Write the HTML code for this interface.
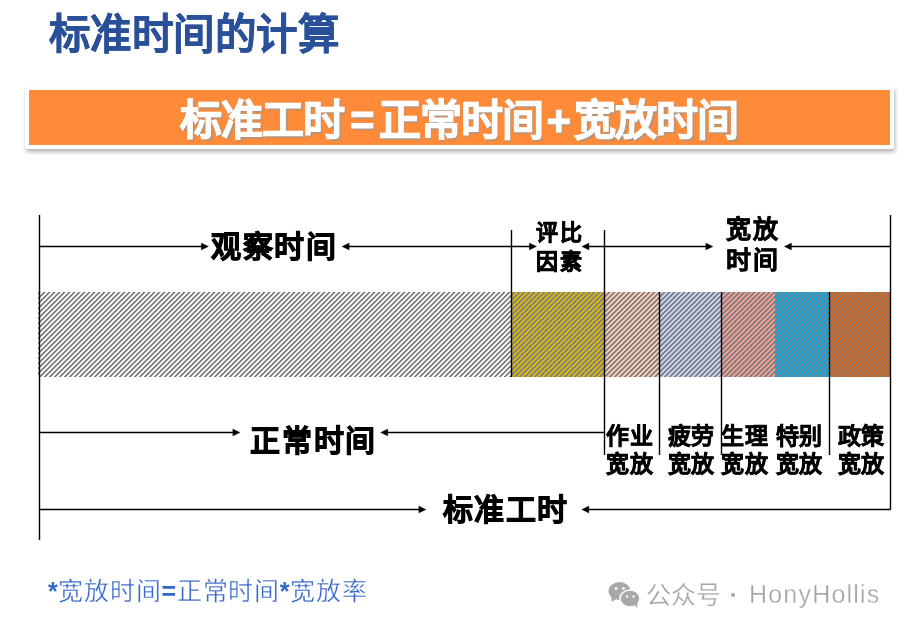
<!DOCTYPE html>
<html lang="zh-CN">
<head>
<meta charset="utf-8">
<style>
html,body{margin:0;padding:0;background:#fff;}
body{width:906px;height:630px;position:relative;overflow:hidden;font-family:"Liberation Sans",sans-serif;}
.t{position:absolute;white-space:nowrap;line-height:1;will-change:transform;}
#title{left:48.5px;top:14px;font-size:41.5px;letter-spacing:-0.55px;font-weight:bold;color:#2a509a;-webkit-text-stroke:0.5px #2a509a;}
#banner{position:absolute;left:25px;top:86px;width:861px;height:55px;background:#ff8a38;border:4px solid #fff;border-radius:2px;box-shadow:1px 3px 4px rgba(0,0,0,0.3);}
#btext{left:180px;top:100px;font-size:42px;letter-spacing:-1px;font-weight:bold;color:#fff;-webkit-text-stroke:1px #fff;text-shadow:1.5px 2px 1.2px rgba(150,150,150,0.85);}
.blk{position:absolute;top:292px;height:85px;}
.d{color:#000;font-weight:bold;-webkit-text-stroke:0.6px #000;}
#footer b{-webkit-text-stroke:0;}
#footer{left:48px;top:579px;font-size:25px;letter-spacing:0.75px;color:#3466c8;-webkit-text-stroke:0.35px #fff;}
#wm{left:645.5px;top:583px;font-size:25px;color:#a6a6a6;-webkit-text-stroke:0.25px #fff;}
#wm2{left:748.8px;top:582px;font-size:25px;color:#a6a6a6;letter-spacing:1.2px;-webkit-text-stroke:0.3px #fff;}
#wmdot{position:absolute;left:731px;top:593px;width:3.5px;height:3.5px;border-radius:50%;background:#aaa;}
</style>
</head>
<body>
<div class="t" id="title">标准时间的计算</div>
<div id="banner"></div>
<div class="t" id="btext">标准工时<span style="margin:0 5px 0 6px">=</span>正常时间<span style="margin:0 4px 0 4px">+</span>宽放时间</div>

<svg width="906" height="630" style="position:absolute;left:0;top:0">
<defs><pattern id="st" x="0" y="0" width="5" height="5" patternUnits="userSpaceOnUse"><rect x="0" y="0" width="1" height="1" fill="#7d7d7d"/><rect x="1" y="0" width="1" height="1" fill="#7d7d7d"/><rect x="2" y="0" width="1" height="1" fill="#7d7d7d" fill-opacity="0.4"/><rect x="4" y="1" width="1" height="1" fill="#7d7d7d"/><rect x="0" y="1" width="1" height="1" fill="#7d7d7d"/><rect x="1" y="1" width="1" height="1" fill="#7d7d7d" fill-opacity="0.4"/><rect x="3" y="2" width="1" height="1" fill="#7d7d7d"/><rect x="4" y="2" width="1" height="1" fill="#7d7d7d"/><rect x="0" y="2" width="1" height="1" fill="#7d7d7d" fill-opacity="0.4"/><rect x="2" y="3" width="1" height="1" fill="#7d7d7d"/><rect x="3" y="3" width="1" height="1" fill="#7d7d7d"/><rect x="4" y="3" width="1" height="1" fill="#7d7d7d" fill-opacity="0.4"/><rect x="1" y="4" width="1" height="1" fill="#7d7d7d"/><rect x="2" y="4" width="1" height="1" fill="#7d7d7d"/><rect x="3" y="4" width="1" height="1" fill="#7d7d7d" fill-opacity="0.4"/></pattern><pattern id="st2" x="0" y="0" width="5" height="5" patternUnits="userSpaceOnUse"><rect x="0" y="0" width="1" height="1" fill="#7a7e8e"/><rect x="1" y="0" width="1" height="1" fill="#7a7e8e"/><rect x="2" y="0" width="1" height="1" fill="#7a7e8e" fill-opacity="0.4"/><rect x="4" y="1" width="1" height="1" fill="#7a7e8e"/><rect x="0" y="1" width="1" height="1" fill="#7a7e8e"/><rect x="1" y="1" width="1" height="1" fill="#7a7e8e" fill-opacity="0.4"/><rect x="3" y="2" width="1" height="1" fill="#7a7e8e"/><rect x="4" y="2" width="1" height="1" fill="#7a7e8e"/><rect x="0" y="2" width="1" height="1" fill="#7a7e8e" fill-opacity="0.4"/><rect x="2" y="3" width="1" height="1" fill="#7a7e8e"/><rect x="3" y="3" width="1" height="1" fill="#7a7e8e"/><rect x="4" y="3" width="1" height="1" fill="#7a7e8e" fill-opacity="0.4"/><rect x="1" y="4" width="1" height="1" fill="#7a7e8e"/><rect x="2" y="4" width="1" height="1" fill="#7a7e8e"/><rect x="3" y="4" width="1" height="1" fill="#7a7e8e" fill-opacity="0.4"/></pattern></defs>
<g shape-rendering="crispEdges"><rect x="38" y="292" width="473" height="85" fill="#ffffff"/><rect x="38" y="292" width="473" height="85" fill="url(#st)"/>
<rect x="511" y="292" width="93" height="85" fill="#dcb800"/><rect x="511" y="292" width="93" height="85" fill="url(#st2)"/>
<rect x="604" y="292" width="55" height="85" fill="#ffcfb4"/><rect x="604" y="292" width="55" height="85" fill="url(#st)"/>
<rect x="659" y="292" width="62" height="85" fill="#c6d6f6"/><rect x="659" y="292" width="62" height="85" fill="url(#st)"/>
<rect x="721" y="292" width="54" height="85" fill="#f4a096"/><rect x="721" y="292" width="54" height="85" fill="url(#st)"/>
<rect x="775" y="292" width="54" height="85" fill="#00b0f0"/><rect x="775" y="292" width="54" height="85" fill="url(#st)"/>
<rect x="829" y="292" width="61" height="85" fill="#e8600c"/><rect x="829" y="292" width="61" height="85" fill="url(#st)"/>
</g>
<g stroke="#000" stroke-width="1.4" fill="none">
<line x1="39.5" y1="215" x2="39.5" y2="540"/>
<line x1="511.5" y1="230" x2="511.5" y2="377"/>
<line x1="604.5" y1="230" x2="604.5" y2="455"/>
<line x1="659.5" y1="292" x2="659.5" y2="455"/>
<line x1="721.5" y1="292" x2="721.5" y2="455"/>
<line x1="829.5" y1="292" x2="829.5" y2="455"/>
<line x1="890.5" y1="215" x2="890.5" y2="509.5"/>
<!-- row1 -->
<line x1="39.5" y1="246.5" x2="202" y2="246.5"/>
<line x1="348" y1="246.5" x2="530" y2="246.5"/>
<line x1="588" y1="246.5" x2="707" y2="246.5"/>
<line x1="790" y1="246.5" x2="890.5" y2="246.5"/>
<!-- row2 -->
<line x1="39.5" y1="432.5" x2="234" y2="432.5"/>
<line x1="387" y1="432.5" x2="604.5" y2="432.5"/>
<!-- row3 -->
<line x1="39.5" y1="509.5" x2="420" y2="509.5"/>
<line x1="588" y1="509.5" x2="890.5" y2="509.5"/>
</g>
<g fill="#000" stroke="#000" stroke-width="0.3" stroke-linejoin="round">
<path d="M208.5 246.5 L201.3 243.0 L201.3 250.0 Z"/>
<path d="M342.0 246.5 L349.2 243.0 L349.2 250.0 Z"/>
<path d="M536.6 246.5 L529.4 243.0 L529.4 250.0 Z"/>
<path d="M581.8 246.5 L589.0 243.0 L589.0 250.0 Z"/>
<path d="M713 246.5 L705.8 243.0 L705.8 250.0 Z"/>
<path d="M784.3 246.5 L791.5 243.0 L791.5 250.0 Z"/>
<path d="M240 432.5 L232.8 429.0 L232.8 436.0 Z"/>
<path d="M380.6 432.5 L387.8 429.0 L387.8 436.0 Z"/>
<path d="M426 509.5 L418.8 506.0 L418.8 513.0 Z"/>
<path d="M581.7 509.5 L588.9 506.0 L588.9 513.0 Z"/>
</g>
</svg>

<div class="t d" style="left:210.5px;top:232px;font-size:30px;letter-spacing:1.6px;-webkit-text-stroke:0.9px #000;">观察时间</div>
<div class="t d" style="left:536px;top:219px;font-size:22px;line-height:28.5px;letter-spacing:2px;">评比<br>因素</div>
<div class="t d" style="left:726px;top:214px;font-size:25px;line-height:31px;letter-spacing:2px;">宽放<br>时间</div>
<div class="t d" style="left:249.5px;top:426px;font-size:30px;letter-spacing:1.8px;-webkit-text-stroke:0.9px #000;">正常时间</div>
<div class="t d" style="left:443px;top:495px;font-size:30px;letter-spacing:1.4px;-webkit-text-stroke:0.9px #000;">标准工时</div>
<div class="t d" style="left:605.5px;top:422px;font-size:23px;line-height:28px;letter-spacing:1px;">作业<br>宽放</div>
<div class="t d" style="left:668px;top:422px;font-size:23px;line-height:28px;">疲劳<br>宽放</div>
<div class="t d" style="left:721px;top:422px;font-size:23px;line-height:28px;letter-spacing:1px;">生理<br>宽放</div>
<div class="t d" style="left:776px;top:422px;font-size:23px;line-height:28px;">特别<br>宽放</div>
<div class="t d" style="left:838px;top:422px;font-size:23px;line-height:28px;">政策<br>宽放</div>

<div class="t" id="footer"><b>*</b>宽放时间<b>=</b>正常时间<b>*</b>宽放率</div>

<svg width="34" height="28" style="position:absolute;left:606px;top:580px" viewBox="0 0 34 28">
<ellipse cx="13.5" cy="11" rx="11" ry="9" fill="#a8a8a8"/>
<path d="M5 17 L6 22 L10 19 Z" fill="#a8a8a8"/>
<ellipse cx="24" cy="18.5" rx="10" ry="8.5" fill="#a8a8a8" stroke="#fff" stroke-width="1.5"/>
<path d="M28 24 L31 28 L31.5 23 Z" fill="#a8a8a8"/>
<circle cx="10" cy="8.5" r="1.4" fill="#fff"/><circle cx="17.5" cy="8.5" r="1.4" fill="#fff"/>
<circle cx="21" cy="16.5" r="1.2" fill="#fff"/><circle cx="27.5" cy="16.5" r="1.2" fill="#fff"/>
</svg>
<div class="t" id="wm">公众号</div><div id="wmdot"></div><div class="t" id="wm2">HonyHollis</div>
</body>
</html>
